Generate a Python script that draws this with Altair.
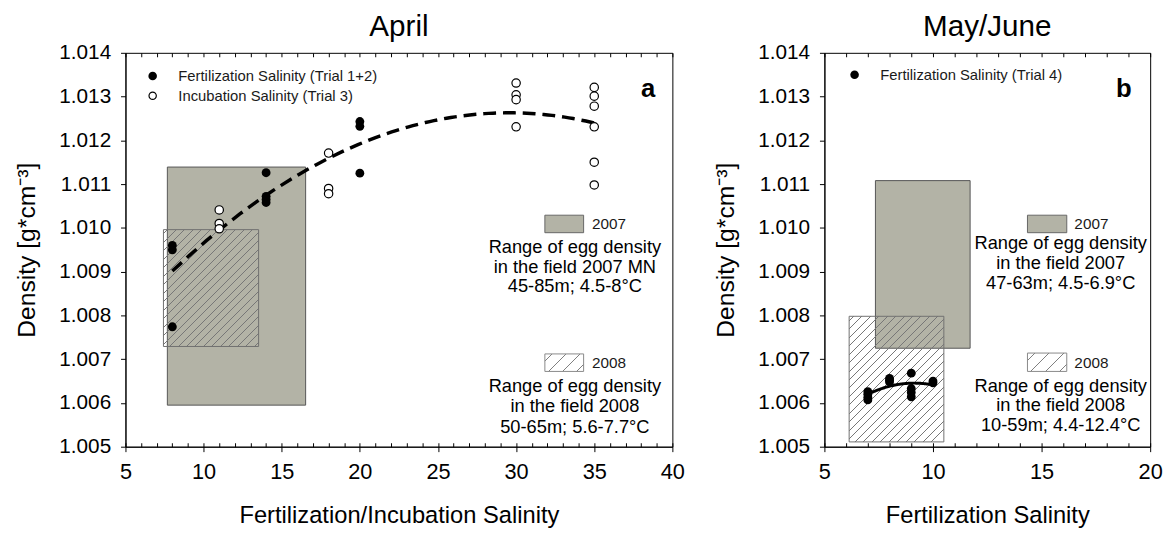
import altair as alt
import pandas as pd

# ---------------- data ----------------
# Panel a (April)
fert_x = [8, 8, 8, 14, 14, 14, 14, 20, 20, 20]
fert_y = [1.00960, 1.00950, 1.00774, 1.01126, 1.01072, 1.01065, 1.01058, 1.01243, 1.01232, 1.01125]
incub_x = [11, 11, 11, 18, 18, 18, 30, 30, 30, 30, 35, 35, 35, 35, 35, 35]
incub_y = [1.01041, 1.01010, 1.00998, 1.01171, 1.01090, 1.01078, 1.01331, 1.01304, 1.01293, 1.01231,
           1.01321, 1.01301, 1.01278, 1.01231, 1.01150, 1.01098]

# Panel b (May/June)
fert4_x = [7, 7, 7, 7, 8, 8, 8, 9, 9, 9, 9, 10, 10]
fert4_y = [1.00626, 1.00620, 1.00613, 1.00607, 1.00656, 1.00652, 1.00648, 1.00668, 1.00633,
           1.00624, 1.00614, 1.00650, 1.00646]

# Field egg-density ranges: 2007, 2008
range_year = ["2007", "2008"]
rangeA_x1 = [7.68, 7.43]
rangeA_x2 = [16.53, 13.52]
rangeA_lo = [1.00595, 1.00729]
rangeA_hi = [1.01139, 1.00996]
rangeB_x1 = [7.35, 6.14]
rangeB_x2 = [11.71, 10.50]
rangeB_lo = [1.00725, 1.00511]
rangeB_hi = [1.01108, 1.00798]

legendA = ["Fertilization Salinity (Trial 1+2)", "Incubation Salinity (Trial 3)"]
legendB = ["Fertilization Salinity (Trial 4)"]
notesA = [["Range of egg density", "in the field 2007 MN", "45-85m; 4.5-8°C"],
          ["Range of egg density", "in the field 2008", "50-65m; 5.6-7.7°C"]]
notesB = [["Range of egg density", "in the field 2007", "47-63m; 4.5-6.9°C"],
          ["Range of egg density", "in the field 2008", "10-59m; 4.4-12.4°C"]]

# ---------------- layout / style ----------------
FONT = "Liberation Sans"
H = 399
WA, WB = 554, 330
XA, XB = [5, 40], [5, 20]
YD = [1.005, 1.014]
GRAY = "#b3b3a6"
TRANSP = "rgba(255,255,255,0)"


def hatch(w, h, step, color="#777777", lw=0.7):
    n = max(1, round((w + h) / step))
    D = (w + h) / 2 ** 0.5
    hw = lw / 2 / D
    stops = [alt.GradientStop(color=TRANSP, offset=0)]
    for i in range(n):
        c = (i + 0.5) / n
        stops += [alt.GradientStop(color=TRANSP, offset=c - hw),
                  alt.GradientStop(color=color, offset=c - hw),
                  alt.GradientStop(color=color, offset=c + hw),
                  alt.GradientStop(color=TRANSP, offset=c + hw)]
    stops.append(alt.GradientStop(color=TRANSP, offset=1))
    a = (w + h) / (w * w + h * h)
    return alt.LinearGradient(gradient="linear", stops=stops, x1=0, y1=0, x2=a * w, y2=a * h)


def X(field, dom, axis=None):
    return alt.X(f"{field}:Q", scale=alt.Scale(domain=dom, nice=False, zero=False), axis=axis)


def Y(field, axis=None):
    return alt.Y(f"{field}:Q", scale=alt.Scale(domain=YD, nice=False, zero=False), axis=axis)


def x_main(dom, title):
    return alt.Axis(orient="bottom", values=list(range(dom[0], dom[1] + 1, 5)), format="d",
                    tickSize=5, labelPadding=10, labelFontSize=22, titleFontSize=24,
                    titlePadding=22, title=title, labelFlush=False, labelOverlap=False)


y_main = alt.Axis(orient="left", values=[round(1.005 + 0.001 * i, 3) for i in range(10)], format=".3f",
                  tickSize=5, labelPadding=10, labelFontSize=21, titleFontSize=25, titlePadding=20,
                  title="Density [g*cm⁻³]", labelFlush=False, labelOverlap=False)


def x_minor(dom, orient):
    return alt.Axis(orient=orient, offset=-H, values=list(range(dom[0], dom[1] + 1)), labels=False,
                    domain=False, ticks=True, tickSize=4, grid=False, title=None)


def panel(dom, W, title, xtitle, series, rx1, rx2, rlo, rhi, fitdash, fitwidth,
          legend_pos, legend_txt, tag, tag_pos, sw_x, sw_y, sw_lbl_x, sw_lbl_y, notes, note_x, note_y):
    layers = []
    # range rectangles
    for i in range(2):
        d = pd.DataFrame({"x": [rx1[i]], "x2": [rx2[i]], "lo": [rlo[i]], "hi": [rhi[i]]})
        if i == 0:
            mk = alt.Chart(d).mark_rect(fill=GRAY, stroke="#555555", strokeWidth=1)
        else:
            w = (rx2[i] - rx1[i]) / (dom[1] - dom[0]) * W
            h = (rhi[i] - rlo[i]) / (YD[1] - YD[0]) * H
            mk = alt.Chart(d).mark_rect(fill=hatch(w, h, 8.5), stroke="#707070", strokeWidth=1)
        layers.append(mk.encode(x=X("x", dom), x2="x2:Q", y=Y("lo"), y2="hi:Q"))

    # fitted polynomial
    allpts = pd.concat([pd.DataFrame({"x": sx, "y": sy}) for sx, sy, _ in series])
    layers.append(alt.Chart(allpts).transform_regression("x", "y", method="poly", order=2)
                  .mark_line(color="black", strokeWidth=fitwidth, strokeDash=fitdash)
                  .encode(x=X("x", dom), y=Y("y")))

    # points
    first = True
    for sx, sy, filled in series:
        d = pd.DataFrame({"x": sx, "y": sy})
        if filled:
            mk = alt.Chart(d).mark_point(shape="circle", filled=True, color="black", size=80, opacity=1)
        else:
            mk = alt.Chart(d).mark_point(shape="circle", filled=True, fill="white", stroke="black",
                                         strokeWidth=1.2, size=72, opacity=1)
        if first:
            layers.append(mk.encode(x=X("x", dom, x_main(dom, xtitle)), y=Y("y", y_main)))
            first = False
        else:
            layers.append(mk.encode(x=X("x", dom), y=Y("y")))

    # legend glyphs and labels
    for (lx, ly, tx), txt, (_, _, filled) in zip(legend_pos, legend_txt, series):
        d = pd.DataFrame({"x": [lx], "y": [ly]})
        if filled:
            mk = alt.Chart(d).mark_point(shape="circle", filled=True, color="black", size=75, opacity=1)
        else:
            mk = alt.Chart(d).mark_point(shape="circle", filled=True, fill="white", stroke="black",
                                         strokeWidth=1.2, size=55, opacity=1)
        layers.append(mk.encode(x=X("x", dom), y=Y("y")))
        dt = pd.DataFrame({"x": [tx], "y": [ly], "t": [txt]})
        layers.append(alt.Chart(dt).mark_text(align="left", baseline="middle", font=FONT, fontSize=15,
                                              color="#1a1a1a")
                      .encode(x=X("x", dom), y=Y("y"), text="t:N"))

    # panel tag (a / b)
    dt = pd.DataFrame({"x": [tag_pos[0]], "y": [tag_pos[1]], "t": [tag]})
    layers.append(alt.Chart(dt).mark_text(align="center", baseline="alphabetic", font=FONT, fontSize=26,
                                          fontWeight="bold", color="black")
                  .encode(x=X("x", dom), y=Y("y"), text="t:N"))

    # range legend swatches
    for i in range(2):
        d = pd.DataFrame({"x": [sw_x[0]], "x2": [sw_x[1]], "lo": [sw_y[i][0]], "hi": [sw_y[i][1]]})
        if i == 0:
            mk = alt.Chart(d).mark_rect(fill=GRAY, stroke="#666666", strokeWidth=1)
        else:
            w = (sw_x[1] - sw_x[0]) / (dom[1] - dom[0]) * W
            h = (sw_y[i][1] - sw_y[i][0]) / (YD[1] - YD[0]) * H
            mk = alt.Chart(d).mark_rect(fill=hatch(w, h, 15, "#808080", 0.8), stroke="#888888", strokeWidth=1)
        layers.append(mk.encode(x=X("x", dom), x2="x2:Q", y=Y("lo"), y2="hi:Q"))
        dt = pd.DataFrame({"x": [sw_lbl_x], "y": [sw_lbl_y[i]], "t": [range_year[i]]})
        layers.append(alt.Chart(dt).mark_text(align="left", baseline="middle", font=FONT, fontSize=15.5,
                                              color="#1a1a1a")
                      .encode(x=X("x", dom), y=Y("y"), text="t:N"))
        dn = pd.DataFrame({"x": [note_x] * 3, "y": note_y[i], "t": notes[i]})
        layers.append(alt.Chart(dn).mark_text(align="center", baseline="middle", font=FONT, fontSize=18.5,
                                              color="black")
                      .encode(x=X("x", dom), y=Y("y"), text="t:N"))

    # minor tick marks (bottom, pointing inward; top border)
    d = pd.DataFrame({"x": [dom[0]]})
    layers.append(alt.Chart(d).mark_point(opacity=0).encode(x=X("x", dom, x_minor(dom, "top"))))
    layers.append(alt.Chart(d).mark_point(opacity=0).encode(x=X("x", dom, x_minor(dom, "bottom"))))

    return (alt.layer(*layers)
            .resolve_axis(x="independent", y="independent")
            .properties(width=W, height=H,
                        title=alt.TitleParams(title, fontSize=30, font=FONT, fontWeight="normal",
                                              anchor="middle", offset=0, color="black")))


left = panel(XA, WA, "April", "Fertilization/Incubation Salinity",
             [(fert_x, fert_y, True), (incub_x, incub_y, False)],
             rangeA_x1, rangeA_x2, rangeA_lo, rangeA_hi, [13, 7], 3.5,
             [(6.74, 1.01347, 8.38), (6.74, 1.01302, 8.38)], legendA,
             "a", (38.45, 1.01299),
             (31.84, 34.32), [(1.00989, 1.01029), (1.00672, 1.00712)], 34.85, [1.01009, 1.00692],
             notesA, 33.76, [[1.009563, 1.009112, 1.008676], [1.006382, 1.005917, 1.005444]])

right = panel(XB, WB, "May/June", "Fertilization Salinity",
              [(fert4_x, fert4_y, True)],
              rangeB_x1, rangeB_x2, rangeB_lo, rangeB_hi, [1, 0], 3,
              [(6.39, 1.01350, 7.57)], legendB,
              "b", (18.79, 1.01299),
              (14.35, 16.16), [(1.00989, 1.01029), (1.00672, 1.00714)], 16.51, [1.01009, 1.00692],
              notesB, 15.88, [[1.009653, 1.009202, 1.008737], [1.006391, 1.005940, 1.005489]])

chart = (alt.hconcat(left, right, spacing=27)
         .properties(padding={"left": 5, "top": 0, "right": 0, "bottom": 0}, background="white")
         .configure_view(stroke="black", strokeWidth=1)
         .configure_axis(domainColor="black", tickColor="black", labelColor="black", titleColor="black",
                         labelFont=FONT, titleFont=FONT, titleFontWeight="normal", grid=False,
                         domainWidth=1, tickWidth=1))

chart.save("out.html", embed_options={"renderer": "svg", "actions": False})
